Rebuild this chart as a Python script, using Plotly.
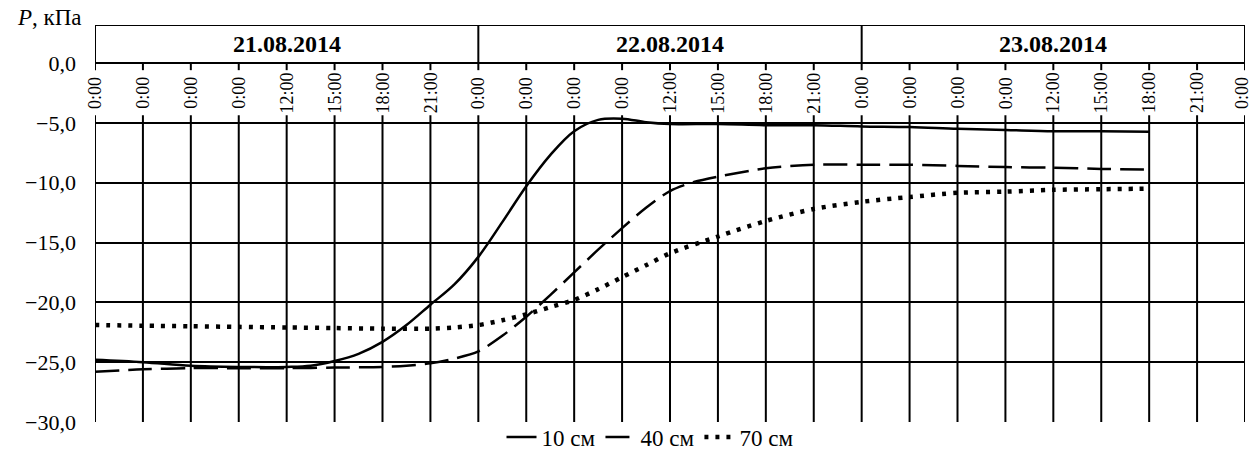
import plotly.graph_objects as go

# ---- data (hours since 21.08.2014 0:00) ----
hours_10 = [0, 3, 6, 9, 12, 13.5, 15, 16.5, 18, 19.5, 21, 22.5, 24, 25.5, 27, 28.5, 30, 31.5,
            33, 34.5, 36, 39, 42, 45, 48, 51, 54, 57, 60, 63, 66]
p_10 = [-24.8, -25.0, -25.3, -25.4, -25.4, -25.3, -24.9, -24.3, -23.3, -21.9, -20.2, -18.5,
        -16.2, -13.3, -10.3, -7.7, -5.7, -4.75, -4.65, -4.95, -5.1, -5.1, -5.2, -5.2, -5.3,
        -5.35, -5.5, -5.6, -5.7, -5.7, -5.75]

hours_40 = [0, 3, 6, 9, 12, 15, 18, 19.5, 21, 22.5, 24, 25.5, 27, 28.5, 30, 31.5, 33, 34.5,
            36, 37.5, 39, 42, 45, 48, 51, 54, 57, 60, 63, 66]
p_40 = [-25.8, -25.6, -25.5, -25.5, -25.5, -25.45, -25.4, -25.3, -25.1, -24.7, -24.1, -22.8,
        -21.2, -19.4, -17.5, -15.6, -13.8, -12.1, -10.7, -9.95, -9.5, -8.8, -8.5, -8.5, -8.5,
        -8.6, -8.7, -8.75, -8.85, -8.9]

hours_70 = [0, 3, 6, 9, 12, 15, 18, 21, 22.5, 24, 25.5, 27, 28.5, 30, 31.5, 33, 34.5, 36,
            39, 42, 45, 48, 51, 54, 57, 60, 63, 66]
p_70 = [-21.9, -21.95, -22.0, -22.05, -22.1, -22.15, -22.2, -22.2, -22.1, -21.9, -21.5, -21.0,
        -20.4, -19.8, -18.9, -17.9, -16.9, -15.9, -14.5, -13.2, -12.2, -11.6, -11.2, -10.85,
        -10.75, -10.6, -10.55, -10.5]

series_names = ["10 см", "40 см", "70 см"]

day_labels = ["21.08.2014", "22.08.2014", "23.08.2014"]
day_tick_labels = ["0:00", "0:00", "0:00", "0:00", "12:00", "15:00", "18:00", "21:00"]
time_labels = day_tick_labels * 3 + ["0:00"]
tick_hours = list(range(0, 73, 3))

y_tick_vals = [-30, -25, -20, -15, -10, -5, 0]
y_tick_text = ["−30,0", "−25,0", "−20,0", "−15,0", "−10,0", "−5,0", "0,0"]

FONT = "Liberation Serif, Times New Roman, serif"
Y_TOP = 3.175

fig = go.Figure()
fig.add_trace(go.Scatter(x=hours_10, y=p_10, mode="lines", name=series_names[0],
                         line=dict(color="black", width=2.5, shape="spline", smoothing=1.0)))
fig.add_trace(go.Scatter(x=hours_40, y=p_40, mode="lines", name=series_names[1],
                         line=dict(color="black", width=2.5, dash="24px,9px", shape="spline", smoothing=0.8)))
fig.add_trace(go.Scatter(x=hours_70, y=p_70, mode="lines", name=series_names[2],
                         line=dict(color="black", width=4.5, dash="4px,7px", shape="spline", smoothing=0.8)))

shapes = []
for h in tick_hours:
    shapes.append(dict(type="line", xref="x", yref="y", x0=h, x1=h, y0=-30, y1=-4.36,
                       line=dict(color="black", width=2), layer="between"))
    shapes.append(dict(type="line", xref="x", yref="y", x0=h, x1=h, y0=0, y1=-0.6,
                       line=dict(color="black", width=2), layer="between"))
# header box
shapes.append(dict(type="rect", xref="x", yref="y", x0=0, x1=72, y0=0, y1=Y_TOP,
                   line=dict(color="black", width=2), layer="between"))
for h in (24, 48):
    shapes.append(dict(type="line", xref="x", yref="y", x0=h, x1=h, y0=0, y1=Y_TOP,
                       line=dict(color="black", width=2), layer="between"))

annotations = []
for h, t in zip(tick_hours, time_labels):
    annotations.append(dict(x=h, y=-2.5, xref="x", yref="y", text=t, textangle=-90,
                            xshift=-3 if h == 72 else 0,
                            showarrow=False, font=dict(family=FONT, size=18, color="black")))
for i, d in enumerate(day_labels):
    annotations.append(dict(x=12 + 24 * i, y=1.59, xref="x", yref="y", text="<b>" + d + "</b>",
                            showarrow=False, font=dict(family=FONT, size=24, color="black")))
annotations.append(dict(x=(84 - 95) / 1150, y=(422 - 18) / 397, xref="paper", yref="paper",
                        xanchor="right", yanchor="middle",
                        text="<i>P</i>, кПа", showarrow=False,
                        font=dict(family=FONT, size=23, color="black")))

fig.update_layout(
    width=1252, height=453,
    margin=dict(l=95, r=7, t=25, b=31, autoexpand=False),
    paper_bgcolor="white", plot_bgcolor="white",
    font=dict(family=FONT, color="black"),
    shapes=shapes, annotations=annotations,
    xaxis=dict(range=[0, 72], showgrid=False, zeroline=False, showticklabels=False,
               showline=False, ticks=""),
    yaxis=dict(range=[-30, Y_TOP], tickvals=y_tick_vals, ticktext=y_tick_text,
               showgrid=True, gridcolor="black", gridwidth=2, zeroline=False,
               showline=False, ticks="", ticklabelstandoff=18,
               tickfont=dict(family=FONT, size=22, color="black")),
    legend=dict(orientation="h", x=(650 - 95) / 1150, xanchor="center",
                yref="container", y=1 - 437 / 453, yanchor="middle",
                font=dict(family=FONT, size=23, color="black"), bgcolor="rgba(0,0,0,0)",
                itemwidth=30, tracegroupgap=0),
    showlegend=True,
)

fig.write_html("out.html")
